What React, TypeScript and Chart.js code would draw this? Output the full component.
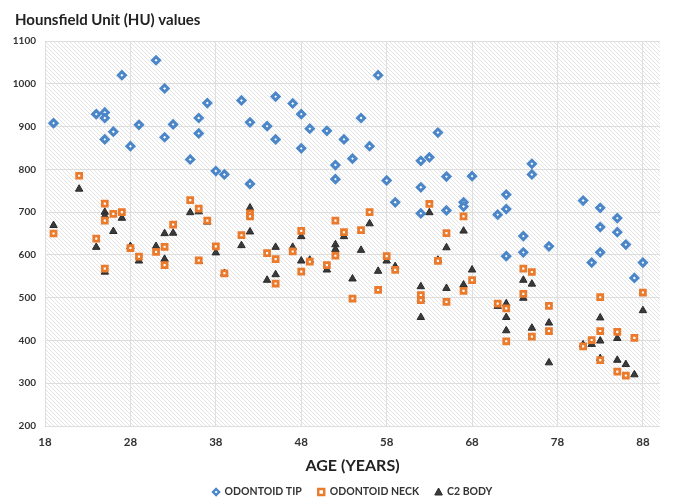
import { useEffect, useRef } from "react";
import { Chart, registerables } from "chart.js";

Chart.register(...registerables);

const tipAge = [19, 24, 25, 25, 25, 26, 27, 28, 29, 31, 32, 32, 33, 35, 36, 36, 37, 38, 39, 41, 42, 42, 44, 45, 45, 47, 48, 48, 49, 51, 52, 52, 53, 54, 55, 56, 57, 58, 59, 62, 62, 62, 63, 64, 65, 65, 67, 67, 68, 71, 72, 72, 72, 74, 74, 75, 75, 77, 81, 82, 83, 83, 83, 85, 85, 86, 87, 88];
const tipHU = [908, 929, 933, 920, 870, 888, 1020, 854, 904, 1055, 989, 875, 905, 823, 920, 884, 955, 796, 788, 961, 910, 766, 901, 970, 870, 954, 929, 849, 895, 890, 810, 777, 870, 825, 920, 854, 1020, 774, 723, 820, 758, 697, 828, 886, 783, 704, 723, 713, 784, 694, 741, 707, 597, 644, 606, 813, 788, 620, 727, 582, 710, 665, 606, 686, 653, 624, 546, 582];

const neckAge = [19, 22, 24, 25, 25, 25, 26, 27, 28, 29, 31, 32, 32, 33, 35, 36, 36, 37, 38, 39, 41, 42, 42, 44, 45, 45, 47, 48, 48, 49, 51, 52, 52, 53, 54, 55, 56, 57, 58, 59, 62, 62, 63, 64, 65, 65, 67, 67, 68, 71, 72, 72, 74, 74, 75, 75, 77, 77, 81, 82, 83, 83, 83, 85, 85, 86, 87, 88];
const neckHU = [650, 785, 638, 720, 680, 568, 696, 700, 616, 596, 607, 619, 576, 671, 728, 708, 587, 680, 620, 557, 646, 697, 690, 604, 590, 533, 608, 656, 561, 584, 576, 680, 598, 653, 498, 658, 700, 518, 597, 565, 506, 494, 719, 586, 651, 490, 690, 516, 541, 486, 475, 398, 568, 509, 560, 409, 481, 422, 386, 401, 501, 422, 354, 420, 327, 318, 406, 512];

const bodyAge = [19, 22, 24, 25, 25, 25, 26, 27, 28, 29, 31, 32, 32, 33, 35, 36, 36, 37, 38, 39, 41, 42, 42, 44, 45, 45, 47, 48, 48, 49, 51, 52, 52, 53, 54, 55, 56, 57, 58, 59, 62, 62, 62, 63, 64, 65, 65, 67, 67, 68, 71, 72, 72, 72, 74, 74, 75, 75, 77, 77, 81, 82, 83, 83, 83, 85, 85, 86, 87, 88];
const bodyHU = [669, 754, 618, 700, 691, 560, 655, 686, 620, 586, 620, 650, 590, 651, 699, 701, 585, 677, 605, 557, 622, 710, 654, 541, 618, 554, 618, 643, 586, 588, 565, 624, 613, 643, 544, 611, 673, 562, 586, 573, 526, 496, 454, 699, 588, 617, 522, 656, 530, 565, 480, 486, 454, 423, 541, 499, 532, 429, 441, 348, 390, 391, 453, 399, 358, 405, 354, 344, 320, 470];

const xTicks = [18, 28, 38, 48, 58, 68, 78, 88];
const seriesNames = ["ODONTOID TIP", "ODONTOID NECK", "C2 BODY"];
const chartTitle = "Hounsfield Unit (HU) values";
const xTitle = "AGE (YEARS)";

const FONT = "Lato, 'Open Sans', sans-serif";

function pts(xs: number[], ys: number[]) {
  return xs.map((x, i) => ({ x, y: ys[i] }));
}

function marker(ctx: CanvasRenderingContext2D, style: string, cx: number, cy: number, r: number) {
  ctx.beginPath();
  if (style === "rectRot") {
    ctx.moveTo(cx, cy - r);
    ctx.lineTo(cx + r, cy);
    ctx.lineTo(cx, cy + r);
    ctx.lineTo(cx - r, cy);
  } else if (style === "rect") {
    ctx.rect(cx - r, cy - r, 2 * r, 2 * r);
  } else {
    ctx.moveTo(cx, cy - r);
    ctx.lineTo(cx + r * 0.95, cy + r * 0.75);
    ctx.lineTo(cx - r * 0.95, cy + r * 0.75);
  }
  ctx.closePath();
  ctx.fill();
  ctx.stroke();
}

export default function App() {
  const ref = useRef<HTMLCanvasElement | null>(null);
  useEffect(() => {
    document.body.style.margin = "0";
    const canvas = ref.current!;
    const pc = document.createElement("canvas");
    pc.width = 4;
    pc.height = 4;
    const p = pc.getContext("2d")!;
    p.fillStyle = "#ffffff";
    p.fillRect(0, 0, 4, 4);
    p.strokeStyle = "rgba(0,0,0,0.11)";
    p.lineWidth = 1;
    p.beginPath();
    p.moveTo(0, 0);
    p.lineTo(4, 4);
    p.moveTo(-2, 2);
    p.lineTo(2, 6);
    p.moveTo(2, -2);
    p.lineTo(6, 2);
    p.stroke();

    const bgPlugin = {
      id: "bgHatch",
      beforeDraw(chart: any) {
        const ctx = chart.ctx;
        const a = chart.chartArea;
        const pat = ctx.createPattern(pc, "repeat");
        ctx.save();
        ctx.fillStyle = "#fff";
        ctx.fillRect(0, 0, chart.width, chart.height);
        ctx.fillStyle = pat;
        ctx.fillRect(a.left, a.top, a.right - a.left, a.bottom - a.top);
        ctx.restore();
      },
      afterDraw(chart: any) {
        const ctx = chart.ctx;
        const a = chart.chartArea;
        ctx.save();
        ctx.fillStyle = "#222";
        ctx.font = `bold 15px ${FONT}`;
        ctx.textBaseline = "middle";
        ctx.textAlign = "left";
        ctx.fillText(chartTitle, 15, 20);

        // legend
        ctx.font = `bold 10.5px ${FONT}`;
        const markerW = 7;
        const gapMT = 5;
        const gapItems = 16;
        const ds = chart.data.datasets;
        const widths = ds.map((d: any) => markerW + gapMT + ctx.measureText(d.label).width);
        const total = widths.reduce((s: number, w: number) => s + w, 0) + gapItems * (ds.length - 1);
        let x = (a.left + a.right) / 2 - total / 2;
        const y = 492;
        ds.forEach((d: any, i: number) => {
          ctx.save();
          ctx.fillStyle = d.backgroundColor;
          ctx.strokeStyle = d.borderColor;
          ctx.lineWidth = d.pointStyle === "triangle" ? 1 : 2.4;
          marker(ctx, d.pointStyle, x + markerW / 2, y, d.pointStyle === "triangle" ? 4 : 3);
          ctx.restore();
          ctx.fillStyle = "#333";
          ctx.textAlign = "left";
          ctx.textBaseline = "middle";
          ctx.fillText(d.label, x + markerW + gapMT, y);
          x += widths[i] + gapItems;
        });
        ctx.restore();
      },
    };

    const chart = new Chart(canvas, {
      type: "scatter",
      data: {
        datasets: [
          {
            label: seriesNames[0],
            data: pts(tipAge, tipHU),
            pointStyle: "rectRot",
            radius: 3.5,
            backgroundColor: "#ffffff",
            borderColor: "#4a86c8",
            borderWidth: 3,
          },
          {
            label: seriesNames[1],
            data: pts(neckAge, neckHU),
            pointStyle: "rect",
            radius: 3.5,
            backgroundColor: "#ffffff",
            borderColor: "#ea7a2c",
            borderWidth: 2.8,
          },
          {
            label: seriesNames[2],
            data: pts(bodyAge, bodyHU),
            pointStyle: "triangle",
            radius: 4.3,
            backgroundColor: "#3a3a3a",
            borderColor: "#2a2a2a",
            borderWidth: 1,
          },
        ],
      },
      plugins: [bgPlugin],
      options: {
        animation: false,
        responsive: false,
        layout: { padding: { top: 41, right: 23, left: 0, bottom: 0 } },
        plugins: {
          title: { display: false },
          tooltip: { enabled: false },
          legend: { display: false },
        },
        scales: {
          x: {
            type: "linear",
            min: 18,
            max: 90,
            afterBuildTicks(scale: any) {
              scale.ticks = xTicks.map((v) => ({ value: v }));
            },
            afterFit(scale: any) {
              scale.height = 73;
            },
            grid: { color: "#dedede", drawTicks: false },
            border: { display: false },
            ticks: {
              padding: 9,
              color: "#333",
              font: { family: FONT, size: 11.5, weight: "bold" },
            },
            title: {
              display: true,
              text: xTitle,
              color: "#222",
              padding: { top: 5, bottom: 24 },
              font: { family: FONT, size: 16, weight: "bold" },
            },
          },
          y: {
            min: 200,
            max: 1100,
            afterFit(scale: any) {
              scale.width = 45;
            },
            grid: { color: "#dedede", drawTicks: false },
            border: { display: false },
            ticks: {
              stepSize: 100,
              padding: 9,
              color: "#333",
              callback: (v: any) => String(v),
              font: { family: FONT, size: 10, weight: "bold" },
            },
          },
        },
      },
    } as any);
    return () => chart.destroy();
  }, []);
  return (
    <div style={{ width: 683, height: 499 }}>
      <canvas ref={ref} width={683} height={499} />
    </div>
  );
}
